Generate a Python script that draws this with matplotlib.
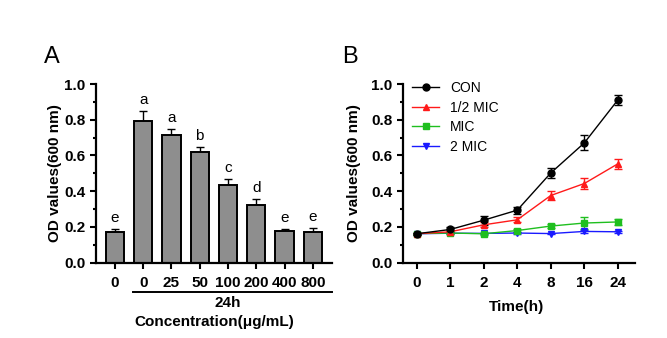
import numpy as np
import matplotlib.pyplot as plt
from matplotlib.lines import Line2D
import matplotlib.transforms as mtransforms

plt.rcParams['font.family'] = ['Liberation Sans', 'DejaVu Sans']

# panel A data
conc_labels = ['0', '0', '25', '50', '100', '200', '400', '800']
od_bar = [0.174, 0.793, 0.712, 0.621, 0.433, 0.323, 0.179, 0.174]
od_bar_err = [0.012, 0.055, 0.036, 0.027, 0.033, 0.032, 0.011, 0.022]
sig_letters = ['e', 'a', 'a', 'b', 'c', 'd', 'e', 'e']

# panel B data
time_labels = ['0', '1', '2', '4', '8', '16', '24']
con = [0.162, 0.186, 0.238, 0.294, 0.502, 0.670, 0.910]
con_err = [0.006, 0.012, 0.026, 0.020, 0.030, 0.042, 0.026]
half_mic = [0.162, 0.173, 0.212, 0.240, 0.376, 0.443, 0.553]
half_mic_err = [0.005, 0.006, 0.015, 0.015, 0.026, 0.030, 0.030]
mic = [0.163, 0.166, 0.162, 0.180, 0.205, 0.222, 0.228]
mic_err = [0.005, 0.005, 0.006, 0.008, 0.012, 0.032, 0.016]
two_mic = [0.162, 0.165, 0.164, 0.166, 0.163, 0.175, 0.173]
two_mic_err = [0.004, 0.004, 0.004, 0.005, 0.005, 0.008, 0.006]

yticks = [0.0, 0.2, 0.4, 0.6, 0.8, 1.0]
ytick_labels = ['0.0', '0.2', '0.4', '0.6', '0.8', '1.0']

FS = 11

fig = plt.figure(figsize=(6.67, 3.38), dpi=100)
axA = fig.add_axes([96/667, 1-262.7/338, 235.7/667, 178.7/338])
axB = fig.add_axes([402.7/667, 1-262.7/338, 231.8/667, 178.7/338])

def style_axis(ax, xlabels):
    for s in ['top', 'right']:
        ax.spines[s].set_visible(False)
    for s in ['left', 'bottom']:
        ax.spines[s].set_linewidth(1.6)
    ax.set_ylim(0, 1.0)
    ax.set_yticks(yticks)
    ax.set_yticklabels(ytick_labels, fontweight='bold', fontsize=FS)
    ax.set_yticks(np.arange(0.1, 1.0, 0.2), minor=True)
    ax.set_xticks(range(len(xlabels)))
    ax.set_xticklabels(xlabels, fontweight='bold', fontsize=FS)
    ax.tick_params(axis='both', which='major', length=4.5, width=1.5, pad=3)
    ax.tick_params(axis='y', which='minor', length=2.5, width=1.5)
    ax.tick_params(axis='x', pad=5)

# ---- panel A
x = np.arange(len(od_bar))
axA.bar(x, od_bar, width=0.65, color='#8e8e8e', edgecolor='black', linewidth=1.4, zorder=2)
axA.errorbar(x, od_bar, yerr=[np.zeros(len(od_bar)), od_bar_err], fmt='none',
             ecolor='black', elinewidth=1.0, capsize=3, capthick=1.0, zorder=1)
for xi, v, e, lt in zip(x, od_bar, od_bar_err, sig_letters):
    axA.annotate(lt, (xi, v + e), xytext=(0, 3), textcoords='offset points',
                 ha='center', va='bottom', fontsize=FS)
axA.set_xlim(-0.67, 7.67)
style_axis(axA, conc_labels)
axA.set_ylabel('OD values(600 nm)', fontsize=FS, fontweight='bold')
axA.yaxis.set_label_coords(-0.145, 0.5)
trA = mtransforms.blended_transform_factory(axA.transData, axA.transAxes)
axA.plot([0.63, 7.67], [-0.162, -0.162], color='black', lw=1.4, transform=trA, clip_on=False)
axA.text(4.0, -0.226, '24h', transform=trA, ha='center', va='center', fontsize=FS, fontweight='bold')
axA.text(3.5, -0.33, 'Concentration(μg/mL)', transform=trA, ha='center', va='center',
         fontsize=FS, fontweight='bold')

# ---- panel B
t = np.arange(len(time_labels))
series = [(con, con_err, 'CON', 'black', 'o'),
          (half_mic, half_mic_err, '1/2 MIC', '#ff1a1a', '^'),
          (mic, mic_err, 'MIC', '#1fbf1f', 's'),
          (two_mic, two_mic_err, '2 MIC', '#1a1aff', 'v')]
handles = []
for vals, err, lab, col, mk in reversed(series):
    axB.errorbar(t, vals, yerr=err, color=col, marker=mk, markersize=5, lw=1.0,
                 capsize=3, elinewidth=1.0, capthick=1.0)
for vals, err, lab, col, mk in series:
    handles.append(Line2D([], [], color=col, marker=mk, markersize=5, lw=1.0, label=lab))
axB.set_xlim(-0.42, 6.5)
style_axis(axB, time_labels)
axB.set_ylabel('OD values(600 nm)', fontsize=FS, fontweight='bold')
axB.yaxis.set_label_coords(-0.18, 0.5)
axB.text(0.49, -0.248, 'Time(h)', transform=axB.transAxes, ha='center', va='center',
         fontsize=FS, fontweight='bold')
axB.legend(handles=handles, loc='upper left', bbox_to_anchor=(0.0, 1.07), frameon=False,
           fontsize=10, handlelength=1.9, handletextpad=0.8, labelspacing=0.4,
           borderaxespad=0.3)

fig.text(52/667, 1-57/338, 'A', fontsize=17, ha='center', va='center')
fig.text(350/667, 1-57/338, 'B', fontsize=17, ha='center', va='center')

fig.savefig('out.png', dpi=100)
